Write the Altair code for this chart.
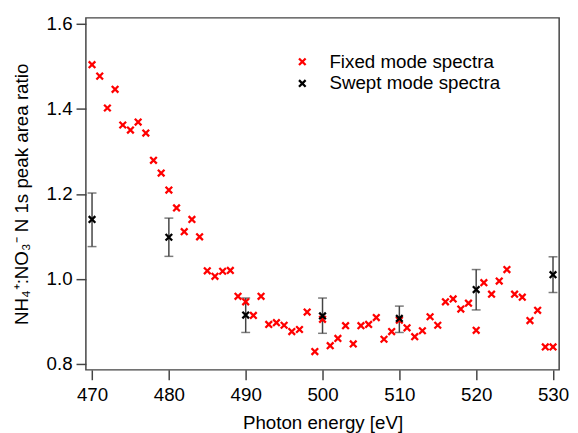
import altair as alt
import pandas as pd

energy = [470, 471, 472, 473, 474, 475, 476, 477, 478, 479,
          480, 481, 482, 483, 484, 485, 486, 487, 488, 489,
          490, 491, 492, 493, 494, 495, 496, 497, 498, 499,
          500, 501, 502, 503, 504, 505, 506, 507, 508, 509,
          510, 511, 512, 513, 514, 515, 516, 517, 518, 519,
          520, 521, 522, 523, 524, 525, 526, 527, 528, 529, 530]
fixed_ratio = [1.504, 1.477, 1.402, 1.446, 1.362, 1.350, 1.369, 1.343, 1.279, 1.249,
               1.209, 1.167, 1.111, 1.140, 1.099, 1.019, 1.006, 1.018, 1.020, 0.959,
               0.946, 0.914, 0.959, 0.893, 0.897, 0.891, 0.876, 0.881, 0.922, 0.829,
               0.905, 0.843, 0.860, 0.890, 0.847, 0.890, 0.893, 0.909, 0.858, 0.876,
               0.903, 0.885, 0.864, 0.878, 0.911, 0.891, 0.946, 0.953, 0.929, 0.943,
               0.879, 0.991, 0.964, 0.995, 1.022, 0.964, 0.957, 0.902, 0.926, 0.840, 0.840]

swept_energy = [470, 480, 490, 500, 510, 520, 530]
swept_ratio = [1.140, 1.098, 0.915, 0.913, 0.907, 0.975, 1.010]
swept_low = [1.076, 1.053, 0.874, 0.872, 0.874, 0.927, 0.968]
swept_high = [1.202, 1.143, 0.955, 0.955, 0.936, 1.022, 1.052]

series_names = ["Fixed mode spectra", "Swept mode spectra"]
series_colors = ["#ff0000", "#000000"]

FONT = "Liberation Sans"
FS = 19
XSHAPE = "M-1,-1L1,1M-1,1L1,-1"

pts = pd.concat([
    pd.DataFrame({"energy": energy, "ratio": fixed_ratio, "series": series_names[0]}),
    pd.DataFrame({"energy": swept_energy, "ratio": swept_ratio, "series": series_names[1]}),
])
err = pd.DataFrame({"energy": swept_energy, "low": swept_low, "high": swept_high})

xscale = alt.Scale(domain=[469.2, 530.8], nice=False, zero=False)
yscale = alt.Scale(domain=[0.786, 1.614], nice=False, zero=False)

xaxis = alt.Axis(values=[470, 480, 490, 500, 510, 520, 530], title="Photon energy [eV]",
                 domain=False, grid=False, tickSize=10, tickColor="#444", tickWidth=1.5,
                 labelFontSize=FS, labelFont=FONT, labelColor="black", labelPadding=6,
                 titleFontSize=FS, titleFont=FONT, titleFontWeight="normal",
                 titleColor="black", titlePadding=9)
yaxis = alt.Axis(values=[0.8, 1.0, 1.2, 1.4, 1.6], format=".1f",
                 title="NH\u2084\u207a:NO\u2083\u207b N 1s peak area ratio",
                 domain=False, grid=False, tickSize=10, tickColor="#444", tickWidth=1.5,
                 labelFontSize=FS, labelFont=FONT, labelColor="black", labelPadding=4,
                 titleFontSize=FS, titleFont=FONT, titleFontWeight="normal",
                 titleColor="black", titlePadding=15)

base_err = alt.Chart(err)
rules = base_err.mark_rule(color="#444", strokeWidth=1.5).encode(
    x=alt.X("energy:Q", scale=xscale, axis=xaxis),
    y=alt.Y("low:Q", scale=yscale, axis=yaxis),
    y2="high:Q",
)
caps_lo = base_err.mark_tick(color="#444", orient="horizontal", size=9, thickness=1.5).encode(
    x=alt.X("energy:Q", scale=xscale), y=alt.Y("low:Q", scale=yscale))
caps_hi = base_err.mark_tick(color="#444", orient="horizontal", size=9, thickness=1.5).encode(
    x=alt.X("energy:Q", scale=xscale), y=alt.Y("high:Q", scale=yscale))

points = alt.Chart(pts).mark_point(shape=XSHAPE, filled=False, size=45, strokeWidth=2.3, opacity=1).encode(
    x=alt.X("energy:Q", scale=xscale),
    y=alt.Y("ratio:Q", scale=yscale),
    color=alt.Color("series:N",
                    scale=alt.Scale(domain=series_names, range=series_colors),
                    legend=alt.Legend(orient="none", legendX=210, legendY=35, title=None,
                                      symbolType=XSHAPE, symbolSize=45, symbolStrokeWidth=2.3,
                                      labelFontSize=FS, labelFont=FONT, labelColor="black",
                                      labelLimit=400, labelOffset=18, rowPadding=2, padding=0)),
)

chart = (rules + caps_lo + caps_hi + points).properties(
    width=480, height=357,
    autosize=alt.AutoSizeParams(type="none"),
    padding={"left": 79, "top": 7, "right": 11, "bottom": 61},
    background="white",
).configure_view(stroke="#444", strokeWidth=1.5)

chart.save("out.html", embed_options={"renderer": "svg", "actions": False})
